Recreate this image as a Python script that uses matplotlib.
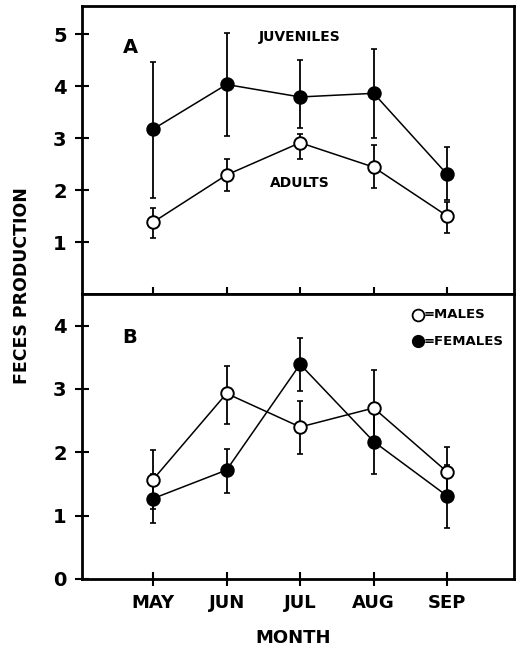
import matplotlib
matplotlib.use("Agg")
import matplotlib.pyplot as plt

# data
months = ["MAY", "JUN", "JUL", "AUG", "SEP"]
x = [1, 2, 3, 4, 5]

# panel A
juv_mean = [3.17, 4.03, 3.79, 3.86, 2.30]
juv_lo = [1.85, 3.03, 3.20, 3.00, 1.80]
juv_hi = [4.47, 5.03, 4.50, 4.72, 2.83]
adu_mean = [1.38, 2.29, 2.91, 2.44, 1.50]
adu_lo = [1.08, 1.99, 2.60, 2.03, 1.18]
adu_hi = [1.66, 2.59, 3.08, 2.87, 1.77]

# panel B
male_mean = [1.57, 2.93, 2.40, 2.70, 1.69]
male_lo = [1.11, 2.44, 1.98, 2.10, 1.29]
male_hi = [2.03, 3.36, 2.81, 3.30, 2.09]
fem_mean = [1.27, 1.72, 3.39, 2.17, 1.31]
fem_lo = [0.89, 1.35, 2.97, 1.65, 0.81]
fem_hi = [1.65, 2.05, 3.80, 2.69, 1.80]

plt.rcParams['font.family'] = ['DejaVu Sans']
plt.rcParams['font.weight'] = 'bold'

fig = plt.figure(figsize=(5.22, 6.51), dpi=100)
axA = fig.add_axes([0.157, 0.5484, 0.828, 0.4424])
axB = fig.add_axes([0.157, 0.1106, 0.828, 0.4378])


def series(ax, mean, lo, hi, filled):
    err = [[m - l for m, l in zip(mean, lo)], [h - m for m, h in zip(mean, hi)]]
    ax.errorbar(x, mean, yerr=err, fmt='none', ecolor='black',
                elinewidth=1.3, capsize=2.5, capthick=1.2, zorder=2)
    ax.plot(x, mean, '-', color='black', lw=1.1, marker='o', ms=9,
            mfc='black' if filled else 'white', mec='black', mew=1.4, zorder=3)


series(axA, adu_mean, adu_lo, adu_hi, False)
series(axA, juv_mean, juv_lo, juv_hi, True)
series(axB, male_mean, male_lo, male_hi, False)
series(axB, fem_mean, fem_lo, fem_hi, True)

for ax in (axA, axB):
    ax.set_xlim(0.034, 5.91)
    for s in ax.spines.values():
        s.set_linewidth(2)
    ax.set_xticks(x)
    ax.tick_params(axis='both', direction='inout', length=10, width=1.5,
                   labelsize=14, pad=6)

axA.set_ylim(0, 5.54)
axA.set_yticks([1, 2, 3, 4, 5])
axA.set_xticklabels([])
axB.set_ylim(0, 4.5)
axB.set_yticks([0, 1, 2, 3, 4])
axB.set_xticklabels(months, fontsize=13)
axB.tick_params(axis='x', pad=6)

axA.text(0.7, 4.75, "A", fontsize=14, ha='center', va='center')
axA.text(3.0, 4.95, "JUVENILES", fontsize=10, ha='center', va='center')
axA.text(3.0, 2.13, "ADULTS", fontsize=10, ha='center', va='center')
axB.text(0.68, 3.82, "B", fontsize=14, ha='center', va='center')

axB.plot([4.6], [4.17], 'o', ms=8.5, mfc='white', mec='black', mew=1.3)
axB.plot([4.6], [3.75], 'o', ms=8.5, mfc='black', mec='black')
axB.text(4.68, 4.17, "=MALES", fontsize=9.5, ha='left', va='center')
axB.text(4.68, 3.75, "=FEMALES", fontsize=9.5, ha='left', va='center')

fig.text(0.561, 0.02, "MONTH", fontsize=13, ha='center', va='center',
         fontweight='bold')
fig.text(0.043, 0.562, "FECES PRODUCTION", rotation=90, fontsize=12.5,
         ha='center', va='center', fontweight='bold')

fig.savefig("out.png", dpi=100)
